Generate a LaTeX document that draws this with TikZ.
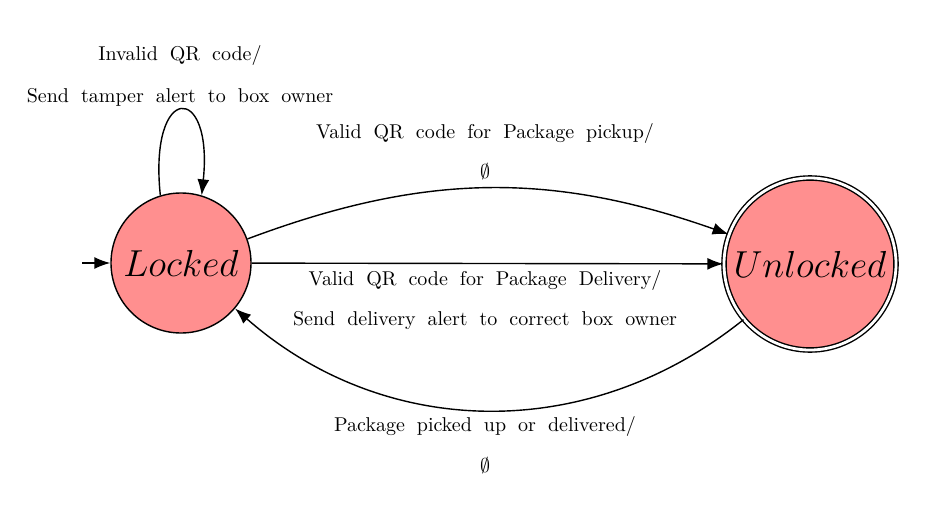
\RequirePackage{fix-cm}
\documentclass[tikz,border=0pt]{standalone}
\usetikzlibrary{arrows.meta}
\definecolor{statefill}{RGB}{255,143,143}
\begin{document}
\begin{tikzpicture}[x=0.5pt,y=0.5pt,
  every path/.style={line width=0.7pt},
  >={Latex[length=8pt,width=6pt]},
  state/.style={circle,draw,fill=statefill,inner sep=0pt,font=\fontsize{18.8}{23}\selectfont},
  lbl/.style={inner sep=0pt,font=\normalsize,execute at begin node={\spaceskip=6pt plus 1pt minus 1pt\relax}}]
\useasboundingbox (0,0) rectangle (932,-514);
\node[state,minimum size=70pt] (L) at (181,-263) {$Locked$};
\node[state,minimum size=86pt,double,double distance=1.4pt] (U) at (810,-264) {$Unlocked$};
\coordinate (init) at (82,-263);
\draw[->] (init) -- (L);
\draw[->] (L.107) .. controls +(96:114) and +(84:114) .. (L.73);
\draw[->] (L) to[bend left=20] (U);
\draw[->] (L) -- (U);
\draw[->] (U) to[bend left=40] (L);
\node[lbl] (l1a) at (180,-56) {Invalid QR code/};
\node[lbl] (l1b) at (180,-97) {Send tamper alert to box owner};
\node[lbl] (l2a) at (485,-133) {Valid QR code for Package pickup/};
\node[lbl] (l2b) at (485,-172) {$\emptyset$};
\node[lbl] (l3a) at (485,-280) {Valid QR code for Package Delivery/};
\node[lbl] (l3b) at (485,-320) {Send delivery alert to correct box owner};
\node[lbl] (l4a) at (485,-426) {Package picked up or delivered/};
\node[lbl] (l4b) at (485,-466) {$\emptyset$};
\end{tikzpicture}
\end{document}
